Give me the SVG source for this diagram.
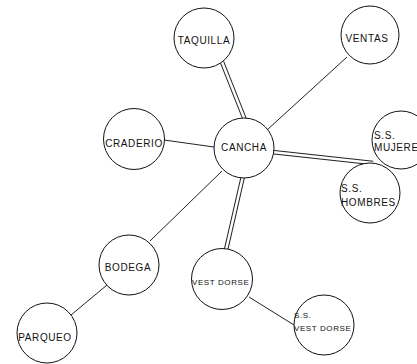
<svg xmlns="http://www.w3.org/2000/svg" width="417" height="364" viewBox="0 0 417 364">
<style>
.n{fill:#fff;stroke:#111;stroke-width:1}
.t{font-family:"Liberation Sans",Arial,sans-serif;font-size:10px;letter-spacing:0.6px;fill:#111}
.c{text-anchor:middle}
.s{font-size:8px}
.l{stroke:#222;stroke-width:1;fill:none}
.d1{stroke:#222;stroke-width:4.5;fill:none}
.d2{stroke:#fff;stroke-width:2.5;fill:none}
</style>
<rect width="417" height="364" fill="#fff"/>
<g id="connectors">
<line class="l" x1="164" y1="140" x2="214" y2="147"/>
<line class="l" x1="347" y1="57" x2="267" y2="130"/>
<line class="l" x1="222" y1="171" x2="150" y2="241"/>
<line class="l" x1="107" y1="285" x2="71" y2="315"/>
<line class="l" x1="249" y1="297" x2="294" y2="325"/>
<g>
<line class="d1" x1="222" y1="62" x2="245" y2="120"/>
<line class="d2" x1="222" y1="62" x2="245" y2="120"/>
</g>
<g>
<line class="d1" x1="272" y1="152" x2="373" y2="163"/>
<line class="d2" x1="272" y1="152" x2="373" y2="163"/>
</g>
<g>
<line class="d1" x1="243" y1="176" x2="226" y2="250"/>
<line class="d2" x1="243" y1="176" x2="226" y2="250"/>
</g>
</g>
<g id="taquilla"><circle class="n" cx="204" cy="38" r="30"/><text class="t c" x="204" y="43.5">TAQUILLA</text></g>
<g id="ventas"><circle class="n" cx="370" cy="35" r="29"/><text class="t c" x="367" y="41.5">VENTAS</text></g>
<g id="craderio"><circle class="n" cx="134" cy="139" r="30.5"/><text class="t c" x="134" y="146.5">CRADERIO</text></g>
<g id="cancha"><circle class="n" cx="244" cy="148" r="30"/><text class="t c" x="244" y="150.5">CANCHA</text></g>
<g id="ss-mujeres"><circle class="n" cx="401" cy="140" r="29"/><text class="t" x="374" y="138.5">S.S.</text><text class="t" x="374" y="151">MUJERES</text></g>
<g id="ss-hombres"><circle class="n" cx="370" cy="193" r="30"/><text class="t" x="341" y="192">S.S.</text><text class="t" x="341" y="205.5">HOMBRES</text></g>
<g id="bodega"><circle class="n" cx="129" cy="265" r="30"/><text class="t c" x="128" y="270.5">BODEGA</text></g>
<g id="vest-dorse"><circle class="n" cx="222" cy="279" r="30.5"/><text class="t s" x="192" y="285">VEST DORSE</text></g>
<g id="parqueo"><circle class="n" cx="47" cy="333" r="30"/><text class="t c" x="45" y="340.5">PARQUEO</text></g>
<g id="ss-vest-dorse"><circle class="n" cx="324" cy="325" r="30"/><text class="t s" x="294" y="318">S.S.</text><text class="t s" x="294" y="331">VEST DORSE</text></g>
</svg>
